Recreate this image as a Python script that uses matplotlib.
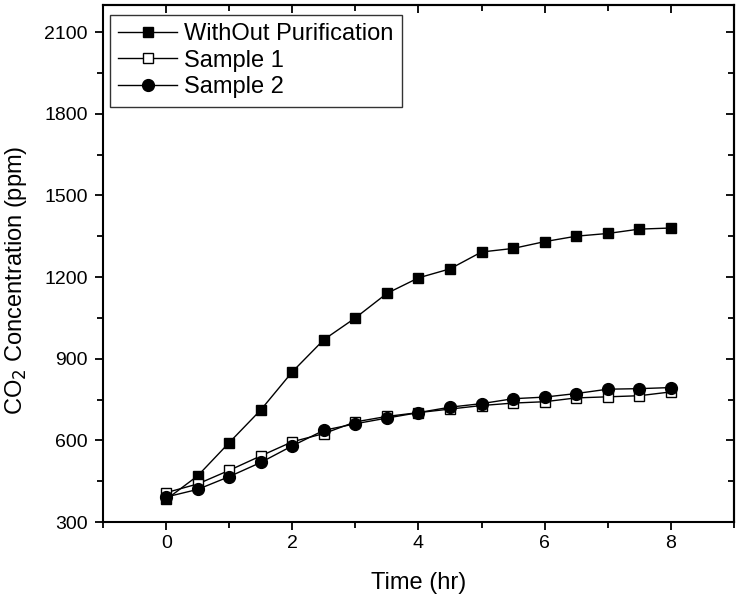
import numpy as np
import matplotlib
matplotlib.use("Agg")
import matplotlib.pyplot as plt
from matplotlib.ticker import MultipleLocator

plt.rcParams['font.family'] = ['Liberation Sans', 'DejaVu Sans']

# time points (hr)
time_hr = [0, 0.5, 1, 1.5, 2, 2.5, 3, 3.5, 4, 4.5, 5, 5.5, 6, 6.5, 7, 7.5, 8]

# CO2 concentration (ppm)
without_purification = [383, 470, 592, 712, 852, 970, 1050, 1140, 1197, 1230, 1292, 1305, 1330, 1350, 1360, 1376, 1380]
sample_1 = [408, 440, 490, 543, 595, 625, 668, 688, 702, 715, 728, 737, 742, 756, 760, 764, 778]
sample_2 = [392, 420, 467, 519, 580, 637, 661, 682, 702, 722, 735, 753, 759, 772, 788, 790, 794]

fig = plt.figure(figsize=(7.42, 5.98), dpi=100)
ax = fig.add_axes([0.139, 0.127, 0.850, 0.865])

ax.plot(time_hr, without_purification, color='black', lw=1, marker='s', ms=7.6,
        mfc='black', mec='black', label='WithOut Purification')
ax.plot(time_hr, sample_1, color='black', lw=1, marker='s', ms=7.6,
        mfc='white', mec='black', label='Sample 1')
ax.plot(time_hr, sample_2, color='black', lw=1, marker='o', ms=8.5,
        mfc='black', mec='black', label='Sample 2')

ax.set_xlim(-1, 9)
ax.set_ylim(300, 2200)
ax.xaxis.set_major_locator(MultipleLocator(2))
ax.xaxis.set_minor_locator(MultipleLocator(1))
ax.yaxis.set_major_locator(MultipleLocator(300))
ax.yaxis.set_minor_locator(MultipleLocator(150))

ax.tick_params(which='both', direction='out', top=False, right=False, labelsize=14, width=1.3)
ax.tick_params(which='major', length=6)
ax.tick_params(which='minor', length=4)
ax.tick_params(axis='y', which='major', pad=5)

# inward ticks on top and right
axt = ax.secondary_xaxis('top')
axt.xaxis.set_major_locator(MultipleLocator(2))
axt.xaxis.set_minor_locator(MultipleLocator(1))
axt.tick_params(which='both', direction='in', labeltop=False, width=1.3)
axt.tick_params(which='major', length=6)
axt.tick_params(which='minor', length=4)
axr = ax.secondary_yaxis('right')
axr.yaxis.set_major_locator(MultipleLocator(300))
axr.yaxis.set_minor_locator(MultipleLocator(150))
axr.tick_params(which='both', direction='in', labelright=False, width=1.3)
axr.tick_params(which='major', length=6)
axr.tick_params(which='minor', length=4)

for s in ax.spines.values():
    s.set_linewidth(1.5)
axt.spines['top'].set_linewidth(1.5)
axr.spines['right'].set_linewidth(1.5)

ax.set_xlabel('Time (hr)', fontsize=17, labelpad=14)
ax.set_ylabel('CO$_2$ Concentration (ppm)', fontsize=17)
ax.yaxis.set_label_coords(-0.118, 0.468)

leg = ax.legend(loc='upper left', bbox_to_anchor=(0.011, 0.981), borderaxespad=0,
                fontsize=17, frameon=True, fancybox=False,
                edgecolor='black', handlelength=2.5, borderpad=0.35,
                labelspacing=0.2, handletextpad=0.3)
leg.get_frame().set_linewidth(1.0)

fig.savefig('out.png', dpi=100)
